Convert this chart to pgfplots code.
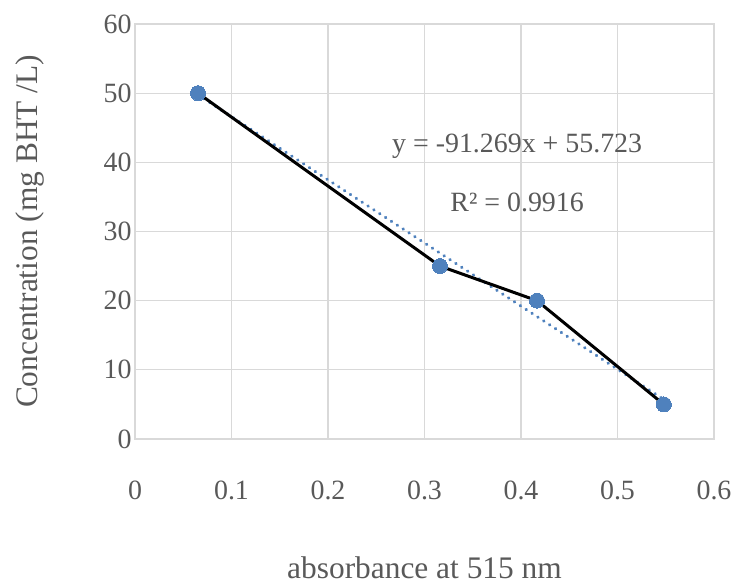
\documentclass[border=0pt]{standalone}
\usepackage{fontspec}
\setmainfont{Liberation Serif}
\usepackage{pgfplots}
\pgfplotsset{compat=1.18}
\definecolor{txtgray}{HTML}{595959}
\definecolor{gridgray}{HTML}{D9D9D9}
\definecolor{xlblue}{HTML}{4F81BD}
\begin{document}
\begin{tikzpicture}
\begin{axis}[
  scale only axis,
  width=579bp, height=415bp,
  xmin=0, xmax=0.6, ymin=0, ymax=60,
  xtick={0,0.1,0.2,0.3,0.4,0.5,0.6}, ytick={0,10,20,30,40,50,60},
  xticklabels={0,0.1,0.2,0.3,0.4,0.5,0.6},
  grid=major,
  major grid style={gridgray, line width=1.2bp},
  axis line style={gridgray, line width=1.2bp},
  major tick length=0pt,
  /pgf/number format/assume math mode=true,
  tick label style={font=\fontsize{28}{32}\selectfont, text=txtgray},
  xticklabel style={yshift=-38bp},
  label style={font=\fontsize{31.5}{35}\selectfont, text=txtgray},
  xlabel={absorbance at 515 nm},
  ylabel={Concentration (mg BHT /L)},
  xlabel style={yshift=-50bp},
  ylabel style={yshift=52bp},
  clip=false,
]
\addplot[xlblue, line width=3.2bp, dash pattern=on 0.4bp off 6.6bp, line cap=round] coordinates {(0.0653,49.763) (0.548,5.708)};
\addplot[black, line width=3bp, mark=*, mark size=7.5bp, mark options={draw=xlblue, fill=xlblue, line width=0pt}] coordinates {(0.0653,50) (0.316,25) (0.4166,20) (0.548,5)};
\node[text=txtgray, font=\fontsize{28}{32}\selectfont] at (axis cs:0.396,42.3) {y = -91.269x + 55.723};
\node[text=txtgray, font=\fontsize{28}{32}\selectfont] at (axis cs:0.396,34.2) {R² = 0.9916};
\end{axis}
\pgfresetboundingbox
\path ([shift={(-135bp,-146bp)}]current axis.south west) rectangle ([shift={(22bp,24bp)}]current axis.north east);
\end{tikzpicture}
\end{document}
